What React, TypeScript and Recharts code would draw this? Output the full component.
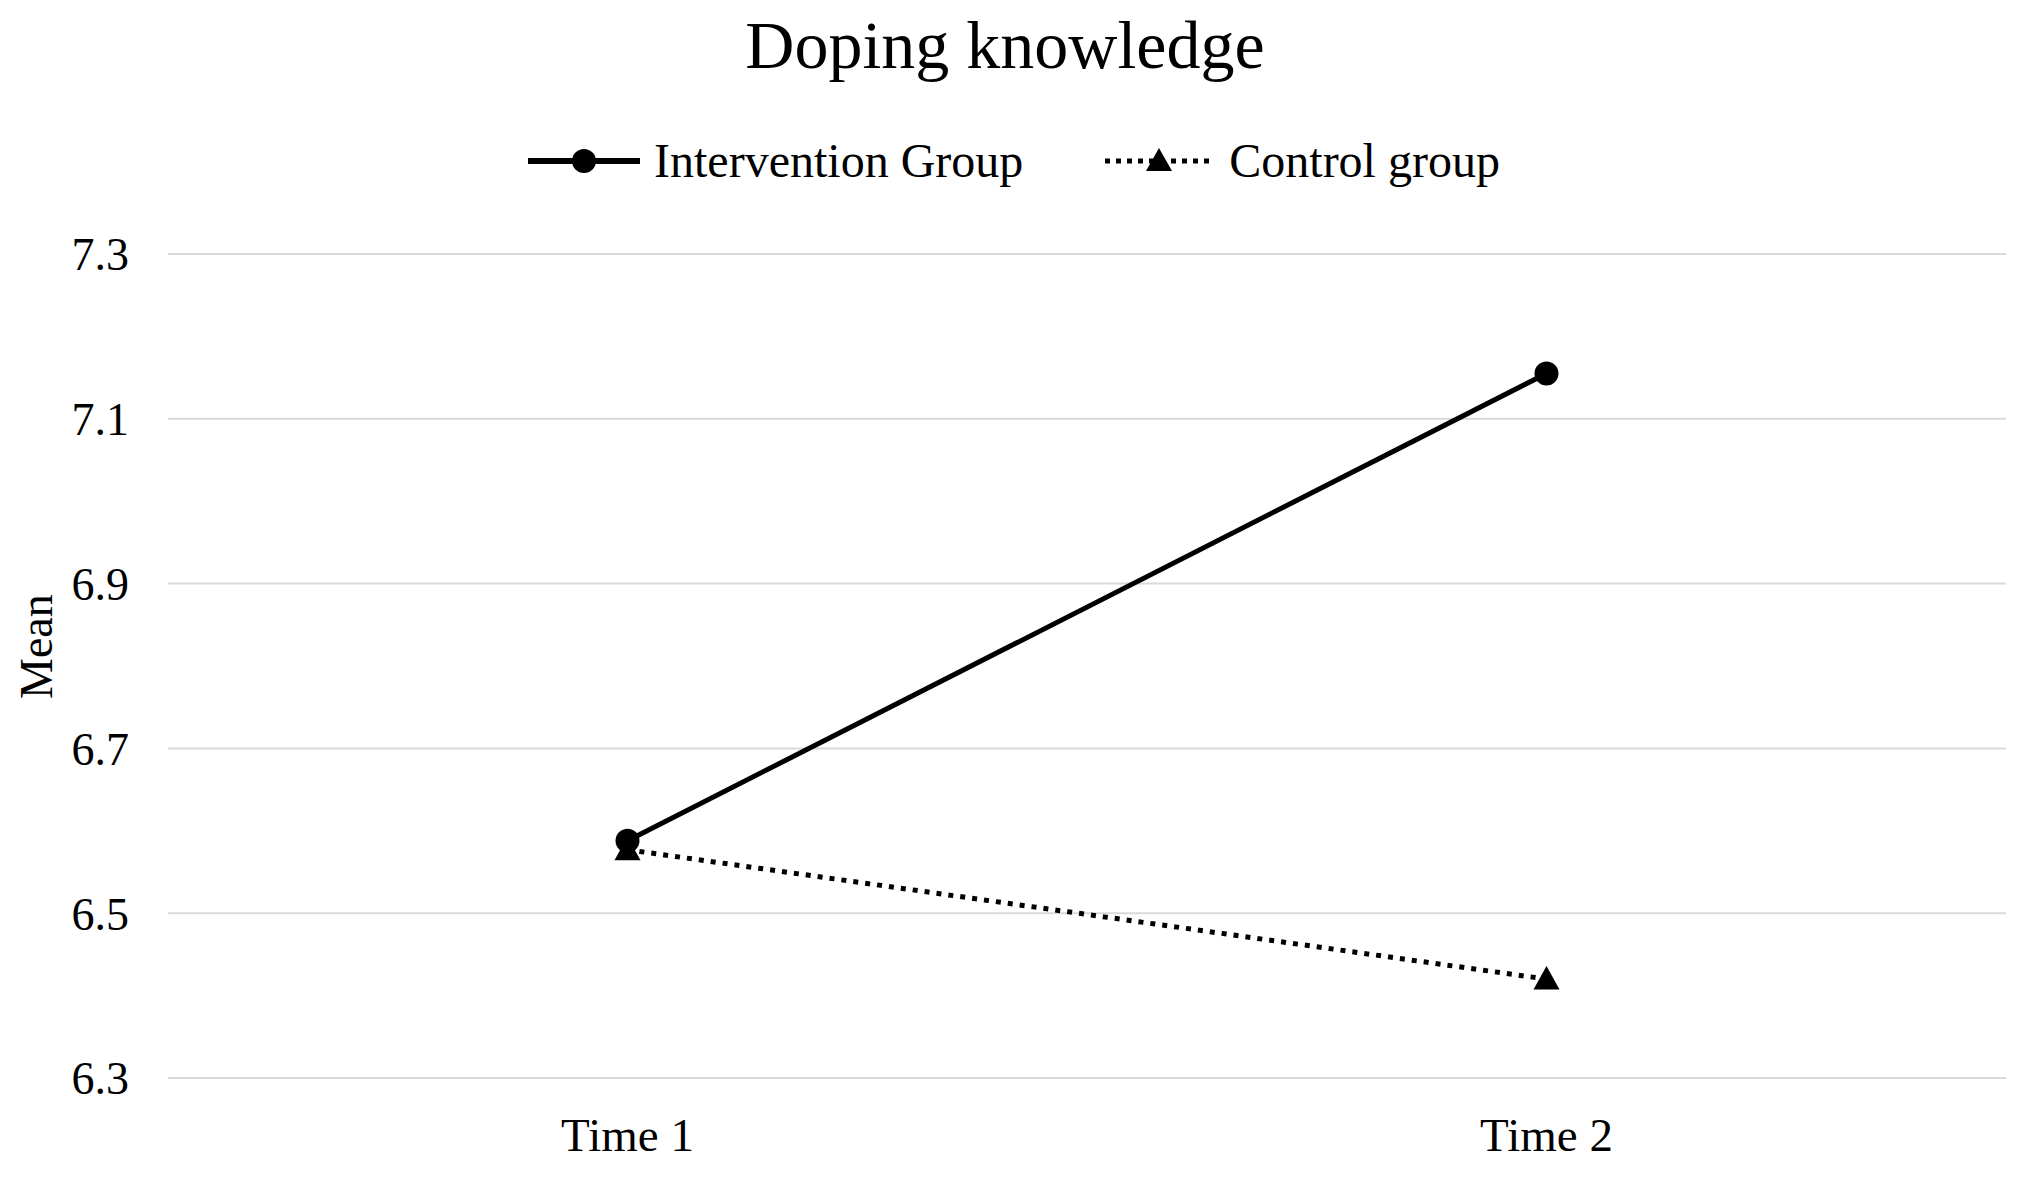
import React from 'react';
import { LineChart, Line, XAxis, YAxis, CartesianGrid } from 'recharts';

const times = ['Time 1', 'Time 2'];
const interventionGroup = [6.588, 7.155];
const controlGroup = [6.577, 6.42];
const yTicks = [6.3, 6.5, 6.7, 6.9, 7.1, 7.3];

const data = times.map((t, i) => ({
  time: t,
  intervention: interventionGroup[i],
  control: controlGroup[i],
}));

const FONT = '"Liberation Serif", "Times New Roman", serif';

function Triangle(props: any) {
  const { cx, cy } = props;
  if (cx == null || cy == null) return null;
  const s = 13;
  return <path d={`M${cx},${cy - s} L${cx + s},${cy + s * 0.8} L${cx - s},${cy + s * 0.8} Z`} fill="#000" />;
}

function LegendBox() {
  return (
    <div style={{ position: 'absolute', top: 133, left: 0, width: 2022, display: 'flex', justifyContent: 'center', alignItems: 'center', fontFamily: FONT, fontSize: 48, color: '#000', marginLeft: 2 }}>
      <svg width={118} height={40}>
        <line x1={2} y1={20} x2={114} y2={20} stroke="#000" strokeWidth={6} />
        <circle cx={58} cy={20} r={12} fill="#000" />
      </svg>
      <span style={{ marginLeft: 10, marginRight: 80 }}>Intervention Group</span>
      <svg width={112} height={40}>
        <line x1={2} y1={20} x2={110} y2={20} stroke="#000" strokeWidth={5} strokeDasharray="5 6" />
        <path d="M56,7 L69,30 L43,30 Z" fill="#000" />
      </svg>
      <span style={{ marginLeft: 14 }}>Control group</span>
    </div>
  );
}

export default function App() {
  return (
    <div style={{ position: 'absolute', left: 0, top: 0, width: 2022, height: 1181, background: '#fff', fontFamily: FONT }}>
      <div style={{ position: 'absolute', top: 6, left: 0, width: 2010, textAlign: 'center', fontSize: 68, color: '#000' }}>
        Doping knowledge
      </div>
      <LegendBox />
      <div style={{ position: 'absolute', left: 4, top: 667, transform: 'translate(0, -50%) rotate(-90deg)', transformOrigin: 'center', fontSize: 46, width: 64, textAlign: 'center' }}>
        Mean
      </div>
      <LineChart width={2022} height={1181} data={data} margin={{ top: 254, right: 16, bottom: 73, left: 0 }}>
        <CartesianGrid vertical={false} stroke="#d9d9d9" strokeWidth={2} />
        <XAxis
          dataKey="time"
          scale="band"
          axisLine={false}
          tickLine={false}
          tick={{ fill: '#000', fontSize: 47, fontFamily: FONT }}
          tickMargin={34}
        />
        <YAxis
          width={168}
          domain={[6.3, 7.3]}
          ticks={yTicks}
          axisLine={false}
          tickLine={false}
          tickSize={0}
          tickMargin={39}
          tickFormatter={(v: number) => v.toFixed(1)}
          tick={{ fill: '#000', fontSize: 46, fontFamily: FONT }}
        />
        <Line
          dataKey="intervention"
          stroke="#000"
          strokeWidth={5}
          dot={{ r: 12, fill: '#000', stroke: '#000', strokeWidth: 0 }}
          isAnimationActive={false}
        />
        <Line
          dataKey="control"
          stroke="#000"
          strokeWidth={5}
          strokeDasharray="5 7"
          dot={<Triangle />}
          isAnimationActive={false}
        />
      </LineChart>
    </div>
  );
}
